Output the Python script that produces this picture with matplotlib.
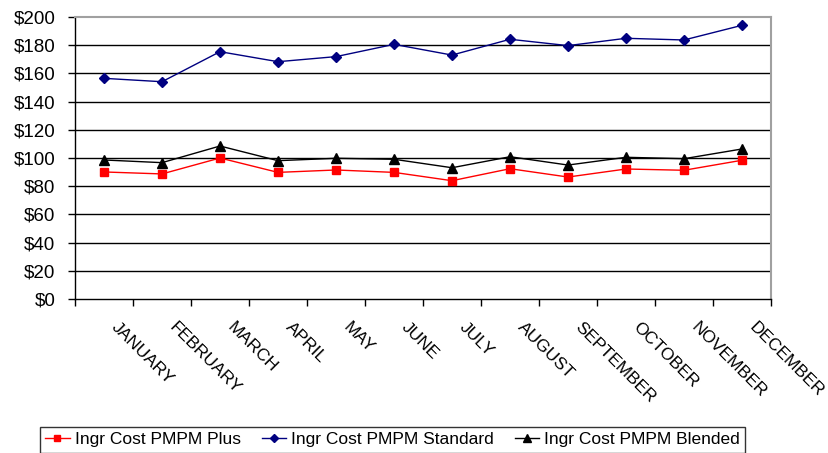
import matplotlib
matplotlib.use("Agg")
import matplotlib.pyplot as plt
import matplotlib.transforms as mtransforms
import numpy as np

months = ['JANUARY', 'FEBRUARY', 'MARCH', 'APRIL', 'MAY', 'JUNE', 'JULY',
          'AUGUST', 'SEPTEMBER', 'OCTOBER', 'NOVEMBER', 'DECEMBER']
plus = [90.1, 88.7, 100.0, 89.8, 91.5, 89.8, 83.9, 92.4, 86.5, 92.2, 91.3, 98.4]
standard = [156.5, 154.1, 175.4, 168.3, 171.9, 180.6, 173.0, 184.2, 179.7,
            184.9, 183.7, 194.1]
blended = [98.6, 96.7, 108.5, 98.1, 99.8, 99.1, 93.1, 100.9, 95.0, 100.5,
           99.5, 106.4]

plt.rcParams['font.family'] = ['Liberation Sans', 'DejaVu Sans']

fig = plt.figure(figsize=(8.29, 4.53), dpi=100)
ax = fig.add_axes([75 / 829, 1 - 299 / 453, 696 / 829, 282 / 453])

x = np.arange(len(months))
ax.plot(x, plus, color='#FF0000', marker='s', markersize=6, lw=1,
        label='Ingr Cost PMPM Plus')
ax.plot(x, standard, color='#000080', marker='D', markersize=5.5, lw=1,
        label='Ingr Cost PMPM Standard')
ax.plot(x, blended, color='black', marker='^', markersize=6.5, lw=1,
        label='Ingr Cost PMPM Blended')

ax.set_xlim(-0.5, len(months) - 0.5)
ax.set_ylim(0, 200)
yt = np.arange(0, 201, 20)
ax.set_yticks(yt)
ax.set_yticklabels(['${}'.format(v) for v in yt], fontsize=13.5)
for v in yt[1:-1]:
    ax.axhline(v, color='black', lw=1, zorder=0)

# month labels, rotated and nudged right of the category centre
ax.set_xticks(np.arange(-0.5, len(months)))
ax.set_xticklabels([])
ax.tick_params(axis='x', length=5, width=1, direction='out')
off = mtransforms.ScaledTranslation(15 / 100, -21 / 100, fig.dpi_scale_trans)
for xi, m in zip(x, months):
    ax.text(xi, 0, m, transform=ax.get_xaxis_transform() + off,
            rotation=-45, rotation_mode='anchor', ha='left', va='top',
            fontsize=12.5)
ax.tick_params(axis='y', length=5, width=1, direction='out', pad=9)

for s in ['top', 'right']:
    ax.spines[s].set_color('#A0A0A0')
    ax.spines[s].set_linewidth(1.5)
for s in ['left', 'bottom']:
    ax.spines[s].set_color('black')
    ax.spines[s].set_linewidth(1)

leg = fig.legend(loc='upper left', bbox_to_anchor=(40 / 829, 1 - 427 / 453),
                 ncol=3, fontsize=12.5, frameon=True, fancybox=False,
                 edgecolor='black', handlelength=1.4, handletextpad=0.3,
                 columnspacing=1.2, borderpad=0.3, borderaxespad=0,
                 markerscale=0.8)
leg.get_frame().set_linewidth(1)

fig.savefig('out.png', dpi=100)
